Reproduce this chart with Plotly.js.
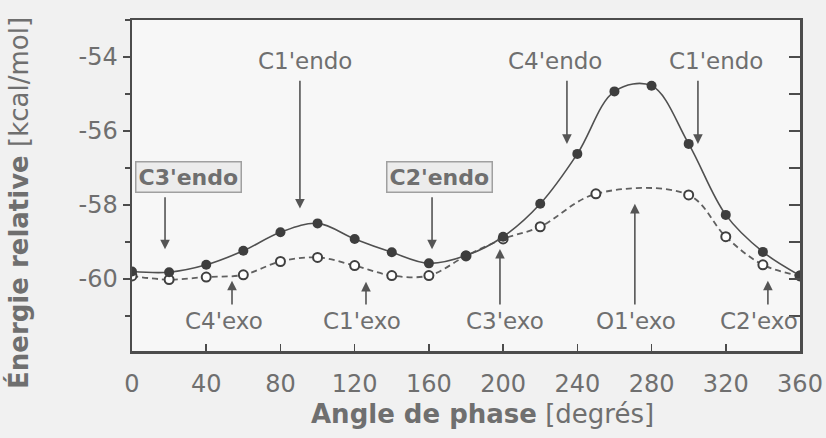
<!DOCTYPE html>
<html>
<head>
<meta charset="utf-8">
<script src="https://cdn.plot.ly/plotly-3.0.1.min.js"></script>
<style>
html,body{margin:0;padding:0;background:#f1f1f1;}
#chart{width:826px;height:438px;}
</style>
</head>
<body>
<div id="chart"></div>
<script>
// Series 1 (filled circles)
const angleFilled = [0,20,40,60,80,100,120,140,160,180,200,220,240,260,280,300,320,340,360];
const energyFilled = [-59.80,-59.82,-59.62,-59.24,-58.74,-58.50,-58.92,-59.28,-59.58,-59.37,-58.86,-57.97,-56.62,-54.93,-54.78,-56.35,-58.27,-59.27,-59.91];
// Series 2 (open circles)
const angleOpen = [0,20,40,60,80,100,120,140,160,180,200,220,250,300,320,340,360];
const energyOpen = [-59.92,-60.02,-59.95,-59.89,-59.53,-59.42,-59.64,-59.91,-59.91,-59.38,-58.92,-58.59,-57.70,-57.73,-58.86,-59.62,-59.92];

// Axis ticks
const xTicks = [0,40,80,120,160,200,240,280,320,360];
const yTicks = [-54,-56,-58,-60];

// Axis titles
const xTitle = '<b>Angle de phase</b> [degrés]';
const yTitle = '<b>Énergie relative</b> [kcal/mol]';

// Conformation arrows: label, arrow angle, tail energy, tip energy, label angle, label energy
const arrowLabels = ["C3'endo","C1'endo","C2'endo","C4'endo","C1'endo","C4'exo","C1'exo","C3'exo","O1'exo","C2'exo"];
const arrowAngle  = [17.8, 90.5, 161.7, 234.4, 305.0, 53.9, 126.1, 198.3, 271.0, 342.7];
const arrowTail   = [-57.75,-54.6,-57.75,-54.6,-54.6,-60.73,-60.73,-60.73,-60.73,-60.73];
const arrowTip    = [-59.2,-58.1,-59.2,-56.35,-56.35,-60.05,-60.08,-59.19,-57.97,-60.05];
const labelAngle  = [30.7, 93.0, 165.5, 228.0, 314.7, 49.6, 124.0, 201.0, 271.6, 338.0];
const labelEnergy = [-57.24,-54.11,-57.24,-54.11,-54.11,-61.14,-61.14,-61.14,-61.14,-61.14];
const labelBoxed  = [true,false,true,false,false,false,false,false,false,false];

const textColor = '#6f6f6f';
const axisColor = '#4c4c4c';
const font = 'DejaVu Sans, sans-serif';

const traces = [
  {
    x: angleOpen, y: energyOpen, type: 'scatter', mode: 'lines+markers',
    line: {shape: 'spline', smoothing: 1, color: '#606060', width: 1.8, dash: '6px,4px'},
    marker: {symbol: 'circle', size: 9, color: '#ffffff', line: {color: '#404040', width: 2}},
    showlegend: false, hoverinfo: 'skip'
  },
  {
    x: angleFilled, y: energyFilled, type: 'scatter', mode: 'lines+markers',
    line: {shape: 'spline', smoothing: 1, color: '#505050', width: 1.6},
    marker: {symbol: 'circle', size: 10, color: '#3e3e3e'},
    showlegend: false, hoverinfo: 'skip'
  },
  {
    x: [0, 360], y: [-60, -60], type: 'scatter', mode: 'none', yaxis: 'y2',
    showlegend: false, hoverinfo: 'skip'
  }
];

const annotations = [];
for (let i = 0; i < arrowLabels.length; i++) {
  annotations.push({
    x: arrowAngle[i], y: arrowTip[i], xref: 'x', yref: 'y',
    ax: arrowAngle[i], ay: arrowTail[i], axref: 'x', ayref: 'y',
    text: '', showarrow: true, arrowhead: 2, arrowsize: 1.2, arrowwidth: 1.6,
    arrowcolor: '#555555'
  });
  annotations.push({
    x: labelAngle[i], y: labelEnergy[i], xref: 'x', yref: 'y',
    text: labelBoxed[i] ? '<b>' + arrowLabels[i] + '</b>' : arrowLabels[i],
    showarrow: false,
    font: {family: font, size: labelBoxed[i] ? 22 : 23, color: textColor},
    bgcolor: labelBoxed[i] ? '#ececec' : 'rgba(0,0,0,0)',
    bordercolor: labelBoxed[i] ? '#a0a0a0' : 'rgba(0,0,0,0)',
    borderwidth: labelBoxed[i] ? 1.5 : 0,
    borderpad: 2
  });
}
// Axis titles placed as paper-anchored text
annotations.push({
  x: 0.5254, y: -0.19, xref: 'paper', yref: 'paper', xanchor: 'center', yanchor: 'middle',
  text: xTitle, showarrow: false, font: {family: font, size: 26, color: textColor}
});
annotations.push({
  x: -0.1707, y: 0.447, xref: 'paper', yref: 'paper', xanchor: 'center', yanchor: 'middle',
  text: yTitle, textangle: -90, showarrow: false, font: {family: font, size: 26, color: textColor}
});

const layout = {
  width: 826, height: 438,
  margin: {l: 132, r: 26, t: 20, b: 87},
  paper_bgcolor: '#f1f1f1',
  plot_bgcolor: '#f7f7f7',
  font: {family: font, color: textColor, size: 20},
  xaxis: {
    range: [0, 360], tickvals: xTicks, ticktext: xTicks.map(String),
    ticks: 'inside', ticklen: 7, tickwidth: 1.5, tickcolor: axisColor,
    showline: true, linecolor: axisColor, linewidth: 2.5, mirror: true,
    showgrid: false, zeroline: false, ticklabelstandoff: 10,
    tickfont: {family: font, size: 24, color: textColor}
  },
  yaxis: {
    range: [-61.95, -53.0], tickvals: yTicks, ticktext: yTicks.map(String),
    ticks: 'outside', ticklen: 7, tickwidth: 1.5, tickcolor: axisColor,
    minor: {dtick: 1, tick0: -60, ticks: 'outside', ticklen: 5, tickcolor: axisColor, tickwidth: 1.5},
    showline: true, linecolor: axisColor, linewidth: 2.5, mirror: true,
    showgrid: false, zeroline: false,
    tickfont: {family: font, size: 24, color: textColor}
  },
  yaxis2: {
    overlaying: 'y', side: 'right', range: [-61.95, -53.0], dtick: 1, tick0: -60,
    ticks: 'inside', ticklen: 11, tickwidth: 1.5, tickcolor: axisColor,
    showticklabels: false, showline: false, showgrid: false, zeroline: false
  },
  annotations: annotations
};

Plotly.newPlot('chart', traces, layout, {staticPlot: true, displayModeBar: false});
</script>
</body>
</html>
